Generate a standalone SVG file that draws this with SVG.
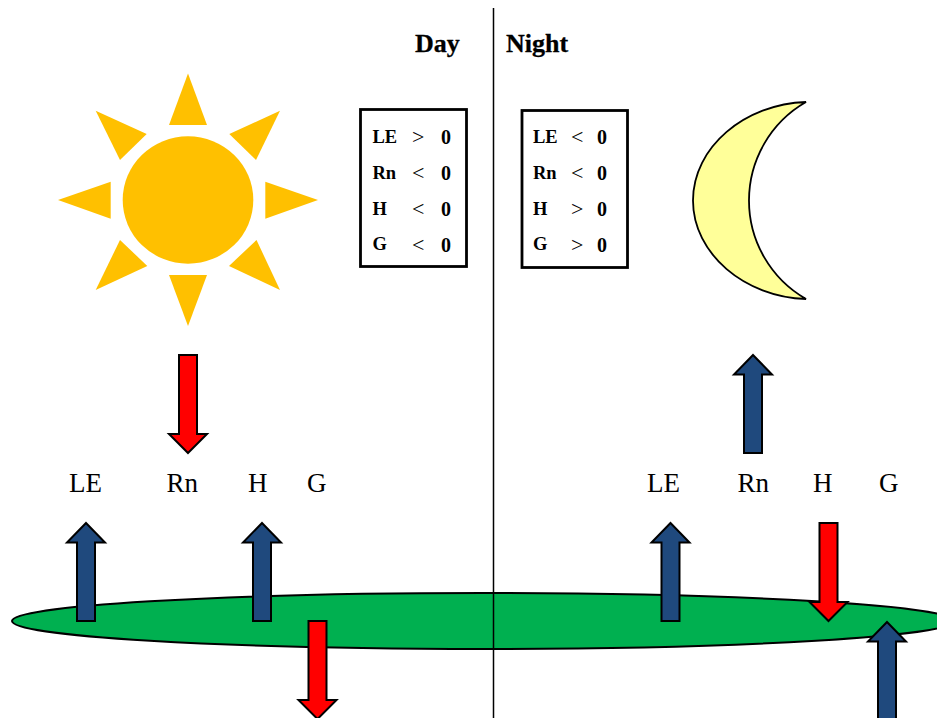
<svg xmlns="http://www.w3.org/2000/svg" width="937" height="718" viewBox="0 0 937 718">
<defs><style>
text{font-family:"Liberation Serif","Times New Roman",serif;fill:#000}
.title{font-size:26px;font-weight:bold;stroke:#000;stroke-width:.3}
.row{font-size:18.500px;font-weight:bold}
.num{font-size:20px;font-weight:bold}
.op{font-size:22px}
.lbl{font-size:27px}
.box{fill:#fff;stroke:#000;stroke-width:2.800}
.ray{fill:#ffc000}
.up{fill:#1f497d;stroke:#000;stroke-width:2}
.dn{fill:#ff0000;stroke:#000;stroke-width:2}
</style>
<path id="a-up" d="M0 1L19 20.500H9V99H-9V20.500H-19Z"/>
<path id="a-dn" d="M0 -1L19 -20H9V-99H-9V-20H-19Z"/>
</defs>
<rect width="937" height="718" fill="#fff"/>
<g id="ground"><ellipse cx="483" cy="621" rx="471" ry="28" fill="#00b050" stroke="#000" stroke-width="2"/></g>
<g id="divider"><line x1="493.500" y1="8" x2="493.500" y2="718" stroke="#000" stroke-width="1.500"/></g>
<g id="sun">
<ellipse cx="188" cy="200" rx="65.300" ry="63.700" class="ray"/>
<polygon class="ray" points="188,73.500 207,125 169,125"/>
<polygon class="ray" points="188,326 207,275 169,275"/>
<polygon class="ray" points="58,200 110.700,181.700 110.700,218.700"/>
<polygon class="ray" points="318,200 265.300,181.700 265.300,218.700"/>
<polygon class="ray" points="95.700,110.700 146.700,134 120,160"/>
<polygon class="ray" points="280,110.700 229.300,134 256,160"/>
<polygon class="ray" points="95.700,290 120,240 147.300,266"/>
<polygon class="ray" points="280,290 256.500,240 229,266"/>
</g>
<g id="moon"><path d="M806 102C745 104 693 147 693 200.500C693 254 745 297 806 299A113.600 113.600 0 0 1 806 102Z" fill="#ffff99" stroke="#000" stroke-width="1.800"/></g>
<g id="title-day"><text class="title" x="415" y="52">Day</text></g>
<g id="title-night"><text class="title" x="506" y="52">Night</text></g>
<g id="box-day">
<rect class="box" x="360.500" y="109.500" width="106" height="157"/>
<text class="row" x="372.500" y="143">LE</text><text class="op" x="412" y="144">&gt;</text><text class="num" x="441" y="144">0</text>
<text class="row" x="372.500" y="178.500">Rn</text><text class="op" x="412" y="180">&lt;</text><text class="num" x="441" y="180">0</text>
<text class="row" x="372.500" y="214.500">H</text><text class="op" x="412" y="216">&lt;</text><text class="num" x="441" y="216">0</text>
<text class="row" x="372.500" y="250">G</text><text class="op" x="412" y="251.500">&lt;</text><text class="num" x="441" y="251.500">0</text>
</g>
<g id="box-night">
<rect class="box" x="522" y="110.500" width="105.500" height="157"/>
<text class="row" x="533" y="143">LE</text><text class="op" x="571" y="144">&lt;</text><text class="num" x="597" y="144">0</text>
<text class="row" x="533" y="178.500">Rn</text><text class="op" x="571" y="180">&lt;</text><text class="num" x="597" y="180">0</text>
<text class="row" x="533" y="214.500">H</text><text class="op" x="571" y="216">&gt;</text><text class="num" x="597" y="216">0</text>
<text class="row" x="533" y="250">G</text><text class="op" x="571" y="251.500">&gt;</text><text class="num" x="597" y="251.500">0</text>
</g>
<g id="labels-day">
<text class="lbl" x="69" y="492">LE</text><text class="lbl" x="166.500" y="492">Rn</text><text class="lbl" x="248" y="492">H</text><text class="lbl" x="307" y="492">G</text>
</g>
<g id="labels-night">
<text class="lbl" x="647" y="492">LE</text><text class="lbl" x="737.500" y="492">Rn</text><text class="lbl" x="813" y="492">H</text><text class="lbl" x="879" y="492">G</text>
</g>
<g id="connectors">
<use href="#a-dn" class="dn" x="188" y="454"/>
<use href="#a-up" class="up" x="753" y="354"/>
<use href="#a-up" class="up" x="86" y="522"/>
<use href="#a-up" class="up" x="262" y="522"/>
<use href="#a-dn" class="dn" x="317.500" y="720"/>
<use href="#a-up" class="up" x="670.500" y="522"/>
<use href="#a-dn" class="dn" x="828.500" y="622"/>
<use href="#a-up" class="up" x="887" y="621"/>
</g>
</svg>
